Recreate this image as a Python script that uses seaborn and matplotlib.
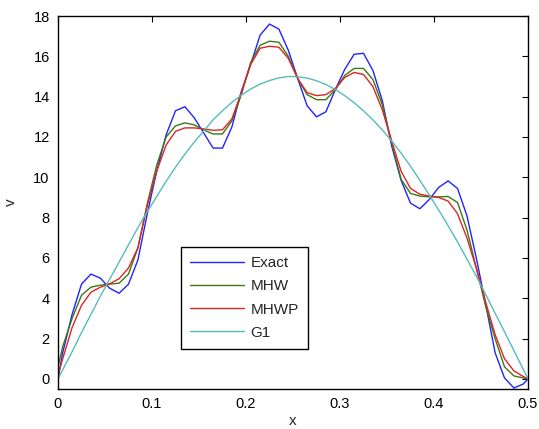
import matplotlib
matplotlib.use("Agg")
import matplotlib.pyplot as plt
import seaborn as sns
import pandas as pd

# sample points (cell centres plus both ends)
x_vals = [0, 0.005, 0.015, 0.025, 0.035, 0.045, 0.055, 0.065, 0.075, 0.085,
          0.095, 0.105, 0.115, 0.125, 0.135, 0.145, 0.155, 0.165, 0.175, 0.185,
          0.195, 0.205, 0.215, 0.225, 0.235, 0.245, 0.255, 0.265, 0.275, 0.285,
          0.295, 0.305, 0.315, 0.325, 0.335, 0.345, 0.355, 0.365, 0.375, 0.385,
          0.395, 0.405, 0.415, 0.425, 0.435, 0.445, 0.455, 0.465, 0.475, 0.485,
          0.495, 0.5]

exact = [0, 1.3, 3.2, 4.7, 5.2, 5.0, 4.5, 4.25, 4.7, 5.9,
         8.2, 10.3, 12.1, 13.3, 13.5, 12.95, 12.2, 11.45, 11.45, 12.5,
         14.25, 15.6, 17.05, 17.6, 17.35, 16.3, 14.9, 13.55, 13.0, 13.25,
         14.35, 15.35, 16.1, 16.15, 15.3, 13.8, 11.55, 9.85, 8.72, 8.44,
         8.9, 9.5, 9.82, 9.45, 8.1, 6.0, 3.7, 1.3, 0.05, -0.45,
         -0.25, 0]

mhw = [0.6, 1.6, 3.0, 4.15, 4.55, 4.65, 4.7, 4.75, 5.2, 6.5,
       8.7, 10.6, 12.0, 12.55, 12.7, 12.6, 12.35, 12.15, 12.15, 12.8,
       14.1, 15.7, 16.55, 16.75, 16.7, 16.0, 14.9, 14.1, 13.85, 13.85,
       14.35, 15.05, 15.4, 15.4, 14.85, 13.6, 11.7, 9.9, 9.2, 9.07,
       9.03, 9.03, 9.05, 8.75, 7.4, 5.5, 3.6, 2.0, 0.6, 0.15,
       0.05, 0]

mhwp = [0.2, 1.0, 2.55, 3.65, 4.3, 4.55, 4.72, 4.97, 5.5, 6.5,
        8.6, 10.3, 11.6, 12.28, 12.45, 12.45, 12.4, 12.33, 12.36, 12.9,
        14.2, 15.6, 16.4, 16.5, 16.45, 15.9, 14.9, 14.2, 14.05, 14.1,
        14.4, 14.95, 15.2, 15.1, 14.5, 13.35, 11.8, 10.3, 9.45, 9.16,
        9.07, 9.0, 8.82, 8.2, 7.0, 5.5, 3.8, 2.2, 1.0, 0.4,
        0.12, 0]

g1 = [0, 0.45, 1.35, 2.3, 3.2, 4.1, 4.95, 5.8, 6.65, 7.5,
      8.3, 9.05, 9.8, 10.5, 11.15, 11.75, 12.3, 12.85, 13.3, 13.72,
      14.07, 14.38, 14.62, 14.8, 14.93, 15.0, 14.99, 14.92, 14.79, 14.6,
      14.36, 14.05, 13.7, 13.3, 12.85, 12.35, 11.8, 11.2, 10.55, 9.85,
      9.12, 8.38, 7.6, 6.8, 5.95, 5.1, 4.18, 3.26, 2.34, 1.41,
      0.47, 0]

labels = ["Exact", "MHW", "MHWP", "G1"]
colors = ["#2222ff", "#3a7a12", "#e02424", "#55bcbc"]

df = pd.DataFrame({"x": x_vals, "Exact": exact, "MHW": mhw, "MHWP": mhwp, "G1": g1})

sns.set_style("white")
plt.rcParams["font.family"] = ["Liberation Sans", "DejaVu Sans"]

fig = plt.figure(figsize=(5.39, 4.29), dpi=100)
ax = fig.add_axes([0.1076, 0.0932, 0.872, 0.8695])

for name, col in zip(labels, colors):
    sns.lineplot(data=df, x="x", y=name, color=col, linewidth=1.0,
                 label=name, ax=ax, sort=False)

ax.set_xlim(0, 0.5)
ax.set_ylim(-0.5, 18)
ax.set_xticks([0, 0.1, 0.2, 0.3, 0.4, 0.5])
ax.set_xticklabels(["0", "0.1", "0.2", "0.3", "0.4", "0.5"])
ax.set_yticks(range(0, 19, 2))
ax.tick_params(axis="both", which="both", direction="in", length=4, width=0.8,
               top=True, right=True, labelsize=10.5, colors="black", pad=6)
for sp in ax.spines.values():
    sp.set_color("black")
    sp.set_linewidth(1.0)
    sp.set_visible(True)

ax.set_xlabel("x", fontsize=11, labelpad=2)
ax.set_ylabel("v", fontsize=11, labelpad=11)

leg = ax.legend(loc="upper left", bbox_to_anchor=(0.2617, 0.3807),
                borderaxespad=0, fontsize=11, handlelength=3.5,
                handletextpad=0.45, labelspacing=0.6, borderpad=0.6,
                fancybox=False, framealpha=1, edgecolor="black")
leg.get_frame().set_linewidth(1.0)

fig.savefig("out.png", dpi=100)
